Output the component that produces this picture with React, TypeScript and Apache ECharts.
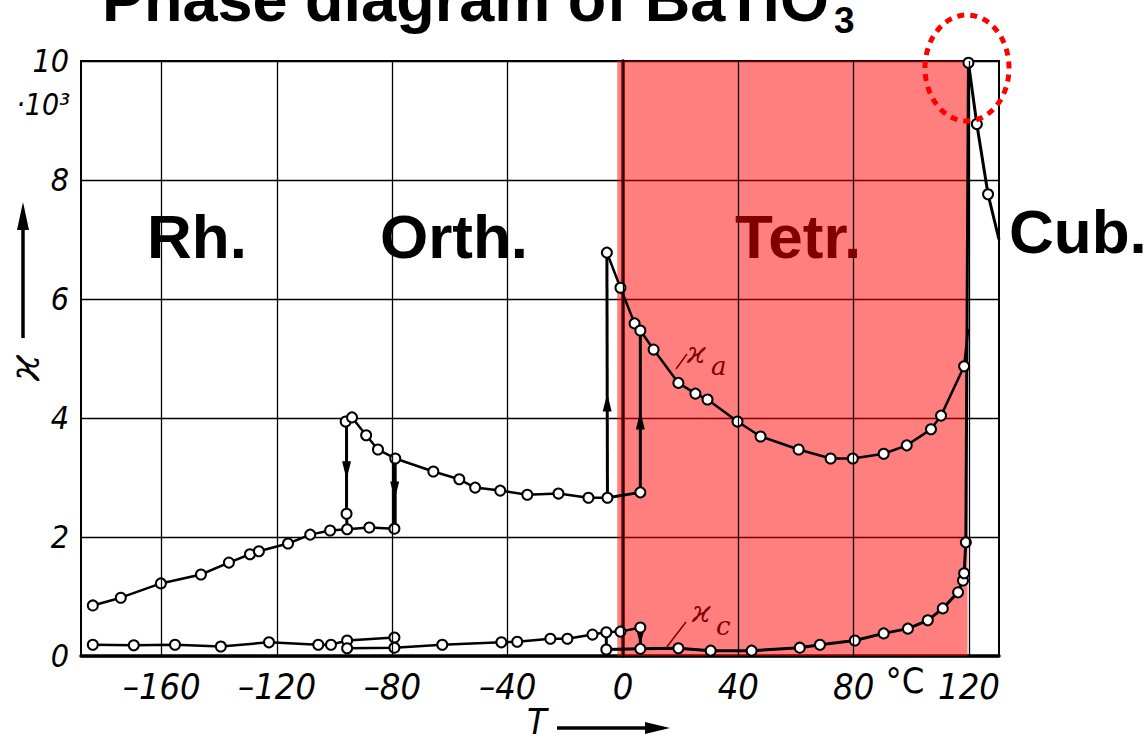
import React, { useEffect, useRef } from "react";
import * as echarts from "echarts";

// ---- data (temperature °C, permittivity ·10^3) ----
const X_TICKS = [-160, -120, -80, -40, 0, 40, 80, 120];
const Y_MIN = 0;
const Y_MAX = 10;
const Y_STEP = 2;
const X_MIN = -188;
const X_MAX = 130.4;
const TETR_RANGE = [-2, 119.5];
const TETR_TOP = 10.08;

// kappa_a branch in rhombohedral phase
const rhKa = [
  [-183.9, 0.85], [-174.2, 0.98], [-160.3, 1.22], [-146.4, 1.37], [-136.7, 1.57],
  [-129.4, 1.71], [-126.3, 1.76], [-116.2, 1.89], [-108.5, 2.04], [-101.6, 2.11],
  [-95.7, 2.13], [-88.0, 2.16], [-79.3, 2.14],
];
// upper branch in orthorhombic phase
const orthKa = [
  [-96.2, 3.94], [-94.0, 4.01], [-89.1, 3.71], [-85.0, 3.47], [-79.0, 3.32],
  [-65.8, 3.1], [-56.8, 2.97], [-51.3, 2.83], [-42.6, 2.78], [-33.2, 2.71],
  [-22.4, 2.73], [-12.0, 2.66], [-5.4, 2.66],
];
// kappa_a in tetragonal phase
const tetrKa = [
  [-5.6, 6.78], [-0.9, 6.19], [4.0, 5.59], [6.0, 5.47], [10.6, 5.15], [19.2, 4.59],
  [25.1, 4.41], [29.3, 4.31], [39.7, 3.94], [47.7, 3.69], [60.9, 3.47], [72.0, 3.32],
  [79.7, 3.32], [90.4, 3.4], [98.4, 3.54], [106.8, 3.81], [110.3, 4.04], [118.3, 4.87],
];
const tetrKaEnd = [119.7, 5.5];
// transition jumps of the upper curves
const jumpRhOrth = [[-95.9, 3.94], [-95.9, 2.39], [-95.7, 2.13]];
const jumpOrthRh = [[-79.2, 3.32], [-79.2, 2.14]];
const jumpOrthTetr = [[-5.4, 2.66], [-5.6, 6.78]];
const tetrLow = [[-5.4, 2.66], [6.0, 2.75], [6.0, 5.47]];
// kappa_c branches
const kcRh = [
  [-183.9, 0.19], [-169.7, 0.18], [-155.4, 0.19], [-139.5, 0.16], [-122.8, 0.23],
  [-105.7, 0.19], [-101.3, 0.19], [-95.7, 0.26], [-79.3, 0.31],
];
const kcOrth = [
  [-95.7, 0.13], [-79.3, 0.14], [-62.7, 0.19], [-42.2, 0.23], [-36.7, 0.24],
  [-25.2, 0.29], [-19.3, 0.29], [-10.6, 0.36], [-5.8, 0.4], [-0.9, 0.41], [6.0, 0.48],
];
const kcJumps = [
  [[-95.7, 0.26], [-95.7, 0.13]],
  [[-79.3, 0.31], [-79.3, 0.14]],
  [[-5.8, 0.4], [-5.8, 0.11]],
  [[6.0, 0.48], [6.0, 0.12]],
];
const kcTetr = [
  [-5.8, 0.11], [6.0, 0.12], [19.2, 0.13], [30.4, 0.09], [44.6, 0.09], [61.3, 0.14],
  [68.3, 0.19], [80.4, 0.26], [90.4, 0.38], [98.8, 0.46], [105.7, 0.6], [110.9, 0.8],
  [116.2, 1.07], [117.9, 1.27], [118.3, 1.39], [118.9, 1.91],
];
const cubic = [[119.8, 9.97], [122.7, 8.94], [126.6, 7.76]];
const cubicEnd = [130.4, 7.0];
// arrow marks on jump lines
const arrowsDown = [[-95.9, 3.12], [-79.2, 2.78], [6.0, 0.3]];
const arrowsUp = [[-5.5, 4.26], [6.0, 3.96]];

const NARROW = "'Liberation Sans Narrow', 'DejaVu Sans Condensed', 'Liberation Sans', sans-serif";
const BOLD = "'Liberation Sans', Arial, Helvetica, sans-serif";
const SERIF = "'DejaVu Serif', 'Liberation Serif', serif";

function pts(data: number[][], noMark: number[] = []) {
  return data.map((p, i) => (noMark.includes(i) ? { value: p, symbol: "none" } : { value: p }));
}

function lineSeries(data: any[], extra: any = {}) {
  return {
    type: "line",
    data,
    symbol: "circle",
    symbolSize: 10,
    showAllSymbol: true,
    silent: true,
    lineStyle: { color: "#000", width: 2.5 },
    itemStyle: { color: "#fff", borderColor: "#000", borderWidth: 2 },
    z: 3,
    ...extra,
  };
}

function arrowMarks(list: number[][], rotate: number) {
  return list.map((p) => ({
    coord: p,
    symbol: "triangle",
    symbolSize: [9, 18],
    symbolRotate: rotate,
    itemStyle: { color: "#000", borderWidth: 0 },
    label: { show: false },
  }));
}

export default function App() {
  const ref = useRef<HTMLDivElement>(null);
  useEffect(() => {
    const chart = echarts.init(ref.current!, null, { renderer: "svg" });
    const series: any[] = [
      // vertical grid lines
      {
        type: "line",
        data: [],
        silent: true,
        z: 1,
        markLine: {
          silent: true,
          symbol: ["none", "none"],
          label: { show: false },
          lineStyle: { color: "#000", width: 1.3, type: "solid" },
          data: X_TICKS.map((v) => ({ xAxis: v })),
        },
      },
      lineSeries(pts(rhKa)),
      lineSeries(pts(orthKa)),
      lineSeries(pts([...tetrKa, tetrKaEnd], [tetrKa.length])),
      lineSeries(pts(jumpRhOrth, [0, 2]), {
        lineStyle: { color: "#000", width: 3 },
        markPoint: { data: arrowMarks([arrowsDown[0]], 180) },
      }),
      lineSeries(pts(jumpOrthRh, [0, 1]), {
        lineStyle: { color: "#000", width: 4 },
        markPoint: { data: arrowMarks([arrowsDown[1]], 180) },
      }),
      lineSeries(pts(jumpOrthTetr, [0, 1]), {
        lineStyle: { color: "#000", width: 3 },
        markPoint: { data: arrowMarks([arrowsUp[0]], 0) },
      }),
      lineSeries(pts(tetrLow, [0, 2]), {
        lineStyle: { color: "#000", width: 3 },
        markPoint: { data: arrowMarks([arrowsUp[1]], 0) },
      }),
      lineSeries(pts(kcRh)),
      lineSeries(pts(kcOrth)),
      ...kcJumps.map((seg, i) =>
        lineSeries(pts(seg, [0, 1]), {
          lineStyle: { color: "#000", width: 3 },
          ...(i === 3 ? { markPoint: { data: arrowMarks([arrowsDown[2]], 180).map((d) => ({ ...d, symbolSize: [7, 12] })) } } : {}),
        })
      ),
      lineSeries(pts([...kcTetr, ...cubic, cubicEnd], [kcTetr.length + cubic.length]), {
        lineStyle: { color: "#000", width: 3 },
      }),
      // tetragonal region highlight
      {
        type: "line",
        data: [],
        silent: true,
        clip: false,
        z: 50,
        markArea: {
          silent: true,
          itemStyle: { color: "rgba(255,0,0,0.5)" },
          data: [[{ coord: [TETR_RANGE[0], Y_MIN] }, { coord: [TETR_RANGE[1], TETR_TOP] }]],
        },
      },
    ];

    chart.setOption({
      animation: false,
      backgroundColor: "#fff",
      grid: {
        left: 81,
        right: 149,
        top: 61,
        bottom: 86,
        show: true,
        borderColor: "#000",
        borderWidth: 2,
        backgroundColor: "transparent",
        outerBoundsMode: "none",
        containLabel: false,
      },
      xAxis: {
        type: "value",
        min: X_MIN,
        max: X_MAX,
        axisLine: { show: true, lineStyle: { color: "#000", width: 3.5 } },
        axisTick: { show: false },
        splitLine: { show: false },
        axisLabel: {
          customValues: X_TICKS,
          color: "#000",
          fontFamily: NARROW,
          fontStyle: "italic",
          fontSize: 36,
          margin: 12,
          formatter: (v: number) => (v < 0 ? "\u2013" + Math.abs(v) : String(v)),
        },
      },
      yAxis: {
        type: "value",
        min: Y_MIN,
        max: Y_MAX,
        interval: Y_STEP,
        axisLine: { show: true, lineStyle: { color: "#000", width: 3.5 } },
        axisTick: { show: false },
        splitLine: { show: true, lineStyle: { color: "#000", width: 1.3 } },
        axisLabel: {
          color: "#000",
          fontFamily: NARROW,
          fontStyle: "italic",
          fontSize: 32,
          margin: 12,
        },
      },
      graphic: [
        {
          type: "text",
          x: 102,
          y: -1,
          z: 100,
          style: { text: "Phase diagram of BaTiO", font: `bold 63px ${BOLD}`, fill: "#000", align: "left", verticalAlign: "middle" },
        },
        {
          type: "text",
          x: 834,
          y: 20,
          z: 100,
          style: { text: "3", font: `bold 37px ${BOLD}`, fill: "#000", align: "left", verticalAlign: "middle" },
        },
        { type: "text", x: 147, y: 236, z: 100, style: { text: "Rh.", font: `bold 62px ${BOLD}`, fill: "#000", verticalAlign: "middle" } },
        { type: "text", x: 380, y: 236, z: 100, style: { text: "Orth.", font: `bold 62px ${BOLD}`, fill: "#000", verticalAlign: "middle" } },
        { type: "text", x: 735, y: 236, z: 100, style: { text: "Tetr.", font: `bold 62px ${BOLD}`, fill: "#800000", verticalAlign: "middle" } },
        { type: "text", x: 1009, y: 231, z: 100, style: { text: "Cub.", font: `bold 62px ${BOLD}`, fill: "#000", verticalAlign: "middle" } },
        // ·10^3 unit under the top tick
        { type: "text", x: 70, y: 104, z: 100, style: { text: "·10³", font: `italic 30px ${NARROW}`, fill: "#000", align: "right", verticalAlign: "middle" } },
        // kappa axis label with arrow
        { type: "text", x: 24, y: 368, rotation: Math.PI / 2, z: 100, style: { text: "ϰ", font: `italic 42px ${SERIF}`, fill: "#000", align: "center", verticalAlign: "middle" } },
        { type: "line", z: 100, shape: { x1: 23, y1: 338, x2: 23, y2: 222 }, style: { stroke: "#000", lineWidth: 3.5 } },
        { type: "polygon", z: 100, shape: { points: [[17, 230], [23, 202], [29, 230]] }, style: { fill: "#000" } },
        // T axis label with arrow
        { type: "text", x: 537, y: 721, z: 100, style: { text: "T", font: `italic 36px ${NARROW}`, fill: "#000", align: "center", verticalAlign: "middle" } },
        { type: "line", z: 100, shape: { x1: 557, y1: 728, x2: 650, y2: 728 }, style: { stroke: "#000", lineWidth: 3.5 } },
        { type: "polygon", z: 100, shape: { points: [[645, 722], [670, 728], [645, 734]] }, style: { fill: "#000" } },
        // degree unit
        { type: "text", x: 905, y: 680, z: 100, style: { text: "°C", font: `36px ${NARROW}`, fill: "#000", align: "center", verticalAlign: "middle" } },
        // curve annotations
        { type: "text", x: 687, y: 352, z: 100, style: { text: "ϰ", font: `italic 30px ${SERIF}`, fill: "#800000", verticalAlign: "middle" } },
        { type: "text", x: 711, y: 366, z: 100, style: { text: "a", font: `italic 26px ${SERIF}`, fill: "#800000", verticalAlign: "middle" } },
        { type: "line", z: 100, shape: { x1: 676, y1: 369, x2: 687, y2: 354 }, style: { stroke: "#800000", lineWidth: 1.5 } },
        { type: "text", x: 692, y: 611, z: 100, style: { text: "ϰ", font: `italic 30px ${SERIF}`, fill: "#800000", verticalAlign: "middle" } },
        { type: "text", x: 716, y: 626, z: 100, style: { text: "c", font: `italic 26px ${SERIF}`, fill: "#800000", verticalAlign: "middle" } },
        { type: "line", z: 100, shape: { x1: 666, y1: 648, x2: 686, y2: 622 }, style: { stroke: "#800000", lineWidth: 1.5 } },
        // dotted highlight around the Curie peak
        {
          type: "ellipse",
          z: 100,
          shape: { cx: 967, cy: 68, rx: 42, ry: 53 },
          style: { fill: "none", stroke: "#ff0000", lineWidth: 5, lineDash: [7, 6] },
        },
      ],
      series,
    });
    return () => chart.dispose();
  }, []);
  return (
    <div
      ref={ref}
      style={{ position: "fixed", left: 0, top: 0, width: 1148, height: 742, background: "#fff" }}
    />
  );
}
